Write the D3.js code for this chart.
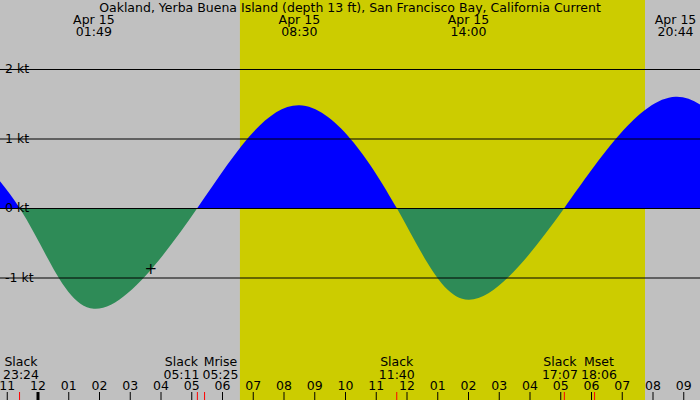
<!DOCTYPE html>
<html><head><meta charset="utf-8">
<script src="https://cdn.jsdelivr.net/npm/d3@7"></script>
<style>body{margin:0;background:#c0c0c0}svg{display:block;font-family:"DejaVu Sans",Arial,sans-serif}</style>
</head><body>
<svg id="chart" width="700" height="400"></svg>
<script>
// hours relative to midnight Apr 15 (negative = Apr 14)
const currentTimes = [-3.9, -0.6, 1.817, 5.183, 8.5, 11.667, 14.0, 17.117, 20.733, 24.0];
const currentValues = [1.5, 0, -1.45, 0, 1.48, 0, -1.32, 0, 1.6, 0];
const peakLabels = [
  { t: 1.817, date: 'Apr 15', time: '01:49' },
  { t: 8.5, date: 'Apr 15', time: '08:30' },
  { t: 14.0, date: 'Apr 15', time: '14:00' },
  { t: 20.733, date: 'Apr 15', time: '20:44' }
];
const events = [
  { t: -0.6, name: 'Slack', time: '23:24' },
  { t: 5.183, name: 'Slack', time: '05:11' },
  { t: 5.417, name: 'Mrise', time: '05:25' },
  { t: 11.667, name: 'Slack', time: '11:40' },
  { t: 17.117, name: 'Slack', time: '17:07' },
  { t: 18.1, name: 'Mset', time: '18:06' }
];
const hourTicks = d3.range(-1, 22);
const gridKt = [2, 1, 0, -1];
const sunrise = 6.567, sunset = 19.74;
const title = 'Oakland, Yerba Buena Island (depth 13 ft), San Francisco Bay, California Current';

const svg = d3.select('#chart');
const x = d3.scaleLinear().domain([0, 12]).range([38, 407]);
const y = d3.scaleLinear().domain([0, 1]).range([208, 138.5]);
const fs = 12.5;

svg.append('rect').attr('x', x(sunrise)).attr('y', 0)
  .attr('width', x(sunset) - x(sunrise)).attr('height', 400).attr('fill', '#cccc00');

const data = currentTimes.map((t, i) => ({ t, v: currentValues[i] }));
const area = d3.area().x(d => x(d.t)).y0(y(0)).y1(d => y(d.v)).curve(d3.curveNatural);

const defs = svg.append('defs');
defs.append('clipPath').attr('id', 'above').append('rect').attr('x', 0).attr('y', 0).attr('width', 700).attr('height', y(0));
defs.append('clipPath').attr('id', 'below').append('rect').attr('x', 0).attr('y', y(0)).attr('width', 700).attr('height', 400);

svg.append('path').datum(data).attr('d', area).attr('fill', '#0000ff').attr('clip-path', 'url(#above)');
svg.append('path').datum(data).attr('d', area).attr('fill', '#2e8b57').attr('clip-path', 'url(#below)');

gridKt.forEach(k => {
  svg.append('line').attr('x1', 0).attr('x2', 700).attr('y1', y(k) + 0.5).attr('y2', y(k) + 0.5)
    .attr('stroke', '#000');
  svg.append('text').attr('x', 5).attr('y', y(k) + 4).attr('font-size', fs).text(`${k} kt`);
});

// current position marker
svg.append('text').attr('x', x(3.667)).attr('y', 274).attr('text-anchor', 'middle')
  .attr('font-size', 15).text('+');

svg.append('text').attr('x', 350).attr('y', 12).attr('text-anchor', 'middle').attr('font-size', fs).text(title);
peakLabels.forEach(p => {
  const g = svg.append('text').attr('text-anchor', 'middle').attr('font-size', fs);
  g.append('tspan').attr('x', x(p.t)).attr('y', 24).text(p.date);
  g.append('tspan').attr('x', x(p.t)).attr('y', 36).text(p.time);
});

// event labels: centred, then overlapping neighbours pushed apart
const labs = events.map(e => {
  const g = svg.append('text').attr('font-size', fs).attr('text-anchor', 'middle');
  const a = g.append('tspan').attr('y', 366).text(e.name);
  const b = g.append('tspan').attr('y', 379).text(e.time);
  const w = Math.max(a.node().getComputedTextLength(), b.node().getComputedTextLength());
  return { a, b, w, left: x(e.t) - w / 2 };
});
labs.forEach((l, i) => {
  if (i === 0) { l.left = Math.max(l.left, 3); return; }
  const p = labs[i - 1];
  const over = p.left + p.w + 3 - l.left;
  if (over > 0) { p.left -= over / 2; l.left += over / 2; }
});
labs.forEach(l => { l.a.attr('x', l.left + l.w / 2); l.b.attr('x', l.left + l.w / 2); });

const fmt = h => String(((h % 12) + 12) % 12 || 12).padStart(2, '0');
hourTicks.forEach(h => {
  svg.append('text').attr('x', x(h)).attr('y', 390).attr('text-anchor', 'middle').attr('font-size', fs).text(fmt(h));
  svg.append('line').attr('x1', x(h)).attr('x2', x(h)).attr('y1', 392).attr('y2', 400)
    .attr('stroke', '#000').attr('stroke-width', h === 0 ? 3 : 1);
});
events.forEach(e => {
  svg.append('line').attr('x1', x(e.t)).attr('x2', x(e.t)).attr('y1', 392).attr('y2', 400)
    .attr('stroke', '#ff0000').attr('stroke-width', 1);
});
</script>
</body></html>
